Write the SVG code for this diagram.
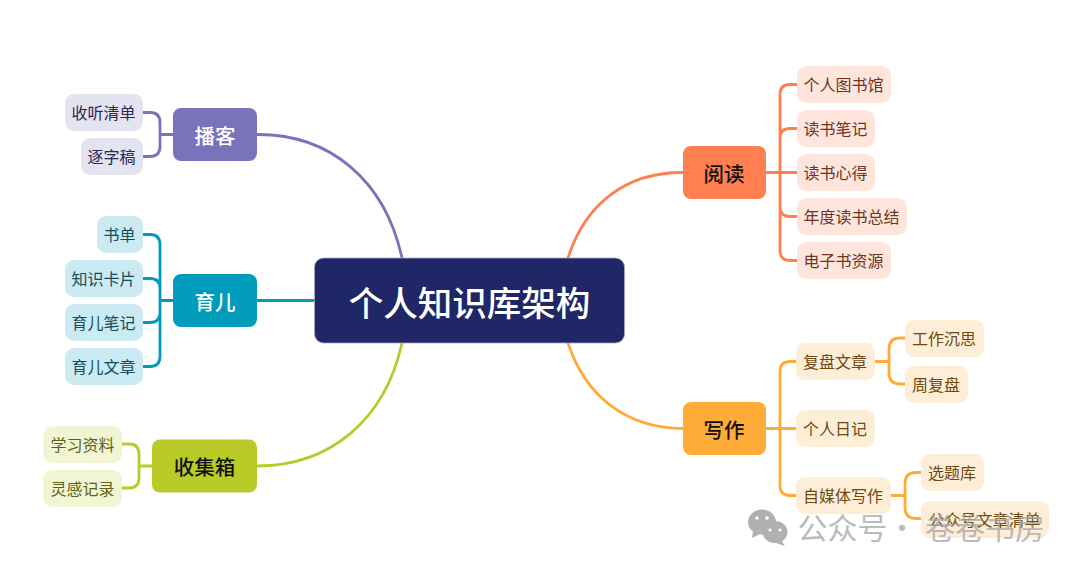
<svg xmlns="http://www.w3.org/2000/svg" width="1080" height="571" viewBox="0 0 1080 571">
<style>
text{font-family:"Noto Sans CJK SC","Liberation Sans",sans-serif;text-anchor:middle;dominant-baseline:central}
.c{fill:none;stroke-width:2.800;stroke-linecap:round}
.l{font-size:16px}
.b{font-size:20.500px;font-weight:500}
</style>
<rect width="1080" height="571" fill="#fff"/>
<g id="connectors">
<path class="c" stroke="#7873bb" d="M257 134.500C330 134 385 180 402 258"/>
<path class="c" stroke="#019cbb" d="M257 300.500H314"/>
<path class="c" stroke="#b8cb28" d="M257 466C330 466 385 420 402 343"/>
<path class="c" stroke="#ff7f50" d="M683 172.500C625 172 585 205 568 258"/>
<path class="c" stroke="#ffab38" d="M683 428.500C625 428 585 395 568 343"/>
<path class="c" stroke="#7873bb" d="M143 112.500H150Q160 112.500 160 122.500V146.500Q160 156.500 150 156.500H143M160 134.500H173"/>
<path class="c" stroke="#019cbb" d="M143 234.500H150Q160 234.500 160 244.500V356.500Q160 366.500 150 366.500H143M143 278.500H150Q160 278.500 160 288.500M143 322.500H150Q160 322.500 160 312.500M160 300.500H173"/>
<path class="c" stroke="#b8cb28" d="M122 444H129Q139 444 139 454V478Q139 488 129 488H122M139 466H152"/>
<path class="c" stroke="#ff7f50" d="M797 84.500H790Q780 84.500 780 94.500V250.500Q780 260.500 790 260.500H797M797 128.500H790Q780 128.500 780 138.500M797 216.500H790Q780 216.500 780 206.500M766 172.500H797"/>
<path class="c" stroke="#ffab38" d="M796 361.500H790Q780 361.500 780 371.500V485.500Q780 495.500 790 495.500H796M766 428.500H796"/>
<path class="c" stroke="#ffab38" d="M875 361.500H889M905 338H900Q889 338 889 349V373Q889 384 900 384H905"/>
<path class="c" stroke="#ffab38" d="M891 495.500H905M921 472.500H916Q905 472.500 905 483.500V507.500Q905 518.500 916 518.500H921"/>
</g>
<g id="center"><rect x="314.500" y="258" width="310" height="85" rx="9" fill="#1f2766" stroke="#a5a8c4" stroke-width=".8"/><text x="469.500" y="301" font-size="34.500" font-weight="500" fill="#fff">个人知识库架构</text></g>
<g id="n-bk"><rect x="173" y="108" width="84" height="53" rx="8" fill="#7873bb"/><text class="b" x="215" y="134.500" fill="#fff">播客</text></g>
<g id="n-ye"><rect x="173" y="274" width="84" height="53" rx="8" fill="#019cbb"/><text class="b" x="215" y="300.500" fill="#fff">育儿</text></g>
<g id="n-sj"><rect x="152" y="439.500" width="105" height="53" rx="8" fill="#b8cb28"/><text class="b" x="204.500" y="466" fill="#111">收集箱</text></g>
<g id="n-yd"><rect x="683" y="146" width="83" height="53" rx="8" fill="#ff7f50"/><text class="b" x="724" y="172.500" fill="#111">阅读</text></g>
<g id="n-xz"><rect x="683" y="402" width="83" height="53" rx="8" fill="#ffab38"/><text class="b" x="724" y="428.500" fill="#111">写作</text></g>
<g id="l1"><rect x="65" y="94" width="78" height="37" rx="9" fill="#e4e3f1"/><text class="l" x="103.500" y="112" fill="#2a2850">收听清单</text></g>
<g id="l2"><rect x="81" y="138" width="62" height="37" rx="9" fill="#e4e3f1"/><text class="l" x="111.500" y="156" fill="#2a2850">逐字稿</text></g>
<g id="l3"><rect x="97" y="216" width="46" height="37" rx="9" fill="#cceaf1"/><text class="l" x="119.500" y="234" fill="#0f4f60">书单</text></g>
<g id="l4"><rect x="65" y="260" width="78" height="37" rx="9" fill="#cceaf1"/><text class="l" x="103.500" y="278" fill="#0f4f60">知识卡片</text></g>
<g id="l5"><rect x="65" y="304" width="78" height="37" rx="9" fill="#cceaf1"/><text class="l" x="103.500" y="322" fill="#0f4f60">育儿笔记</text></g>
<g id="l6"><rect x="65" y="348" width="78" height="37" rx="9" fill="#cceaf1"/><text class="l" x="103.500" y="366" fill="#0f4f60">育儿文章</text></g>
<g id="l7"><rect x="43.500" y="426" width="78.500" height="37" rx="9" fill="#f1f5d4"/><text class="l" x="82.500" y="444" fill="#5c6414">学习资料</text></g>
<g id="l8"><rect x="43.500" y="470" width="78.500" height="37" rx="9" fill="#f1f5d4"/><text class="l" x="82.500" y="488" fill="#5c6414">灵感记录</text></g>
<g id="r1"><rect x="797" y="66" width="94" height="37" rx="9" fill="#ffe5dc"/><text class="l" x="843.500" y="84" fill="#6e3520">个人图书馆</text></g>
<g id="r2"><rect x="797" y="110" width="78" height="37" rx="9" fill="#ffe5dc"/><text class="l" x="835.500" y="128" fill="#6e3520">读书笔记</text></g>
<g id="r3"><rect x="797" y="154" width="78" height="37" rx="9" fill="#ffe5dc"/><text class="l" x="835.500" y="172" fill="#6e3520">读书心得</text></g>
<g id="r4"><rect x="797" y="198" width="110" height="37" rx="9" fill="#ffe5dc"/><text class="l" x="851.500" y="216" fill="#6e3520">年度读书总结</text></g>
<g id="r5"><rect x="797" y="242" width="94" height="37" rx="9" fill="#ffe5dc"/><text class="l" x="843.500" y="260" fill="#6e3520">电子书资源</text></g>
<g id="w1"><rect x="796" y="343" width="79" height="37" rx="9" fill="#ffeed7"/><text class="l" x="835" y="361" fill="#6e4a10">复盘文章</text></g>
<g id="w2"><rect x="905" y="320" width="79" height="37" rx="9" fill="#ffeed7"/><text class="l" x="944" y="338" fill="#6e4a10">工作沉思</text></g>
<g id="w3"><rect x="905" y="366" width="63" height="37" rx="9" fill="#ffeed7"/><text class="l" x="936" y="384" fill="#6e4a10">周复盘</text></g>
<g id="w4"><rect x="796" y="410" width="79" height="37" rx="9" fill="#ffeed7"/><text class="l" x="835" y="428" fill="#6e4a10">个人日记</text></g>
<g id="w5"><rect x="796" y="477" width="95" height="37" rx="9" fill="#ffeed7"/><text class="l" x="843" y="495" fill="#6e4a10">自媒体写作</text></g>
<g id="w6"><rect x="921" y="454" width="63" height="37" rx="9" fill="#ffeed7"/><text class="l" x="952" y="472" fill="#6e4a10">选题库</text></g>
<g id="w7"><rect x="921" y="501" width="128" height="37" rx="9" fill="#ffeed7"/><text class="l" x="984.500" y="519" fill="#6e4a10">公众号文章清单</text></g>
<g id="watermark">
<g fill="#b0b0b0">
<ellipse cx="762" cy="522" rx="14" ry="12.500"/><path d="M753 531l-1 7 8-4z"/>
<ellipse cx="775" cy="532" rx="12.500" ry="11"/><path d="M781 540l4 6-9-3z"/>
</g>
<g fill="#fff"><circle cx="757" cy="518" r="1.800"/><circle cx="767" cy="518" r="1.800"/><circle cx="770" cy="530" r="1.500"/><circle cx="780" cy="530" r="1.500"/></g>
<g fill="#a8a8a8" fill-opacity=".8" font-size="30">
<text x="842.500" y="526">公众号</text>
<text x="902" y="526">·</text>
<text x="985" y="526">卷卷书房</text>
</g>
</g>
</svg>
